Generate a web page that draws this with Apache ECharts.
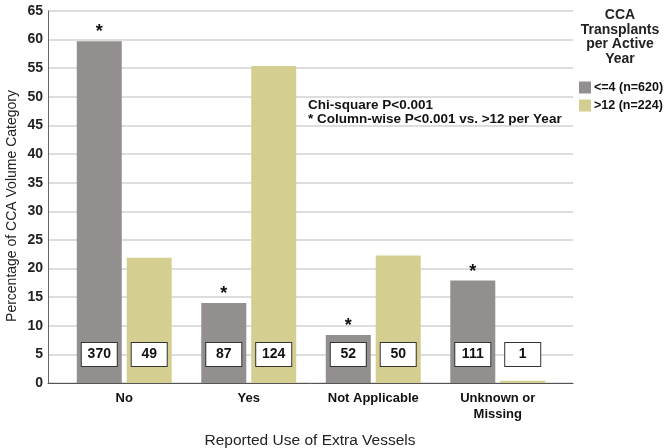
<!DOCTYPE html>
<html>
<head>
<meta charset="utf-8">
<script src="https://cdn.jsdelivr.net/npm/echarts@6/dist/echarts.min.js"></script>
<style>
html,body{margin:0;padding:0;background:#fff;}
#chart{width:666px;height:448px;}
</style>
</head>
<body>
<div id="chart"></div>
<script>
const categories = ['No', 'Yes', 'Not Applicable', 'Unknown or\nMissing'];
const lowName = '<=4 (n=620)';
const highName = '>12 (n=224)';
const lowPct = [59.7, 14.0, 8.4, 17.9];
const highPct = [21.9, 55.4, 22.3, 0.4];
const lowCounts = [370, 87, 52, 111];
const highCounts = [49, 124, 50, 1];
const lowStar = [true, true, true, true];
const highStar = [false, false, false, false];
const yTicks = { min: 0, max: 65, interval: 5 };

const FONT = '"Liberation Sans", Arial, sans-serif';
const GRAY = '#938f8f';
const YELLOW = '#d4cf91';

const countLabel = (counts) => ({
  show: true,
  position: 'insideBottom',
  distance: 17,
  formatter: (p) => String(counts[p.dataIndex]),
  backgroundColor: '#ffffff',
  borderColor: '#333',
  borderWidth: 1,
  padding: [4, 4],
  width: 27,
  align: 'center',
  fontFamily: FONT,
  fontSize: 14,
  fontWeight: 'bold',
  lineHeight: 15,
  color: '#111'
});

const starLabel = (flags) => ({
  show: true,
  position: 'top',
  distance: 0,
  formatter: (p) => flags[p.dataIndex] ? '*' : '',
  fontFamily: FONT,
  fontSize: 18,
  fontWeight: 'bold',
  color: '#111'
});

const chart = echarts.init(document.getElementById('chart'), null, { renderer: 'canvas' });
chart.setOption({
  animation: false,
  backgroundColor: '#fff',
  textStyle: { fontFamily: FONT },
  grid: [
    { left: 48, right: 93, top: 11, bottom: 65 },
    { left: 62, right: 106, top: 11, bottom: 65 }
  ],
  xAxis: [
    { type: 'category', gridIndex: 0, data: categories,
      axisLine: { show: true, lineStyle: { color: '#555', width: 1 } },
      axisTick: { show: false }, axisLabel: { show: false }, splitLine: { show: false } },
    { type: 'category', gridIndex: 1, data: categories,
      axisLine: { show: false }, axisTick: { show: false },
      axisLabel: { fontFamily: FONT, fontSize: 13, fontWeight: 'bold', color: '#111', margin: 7, lineHeight: 16 } },
    { type: 'category', gridIndex: 1, data: categories, show: false }
  ],
  yAxis: [
    { type: 'value', gridIndex: 0, min: yTicks.min, max: yTicks.max, interval: yTicks.interval,
      axisLine: { show: true, lineStyle: { color: '#666', width: 1 } },
      axisTick: { show: false },
      axisLabel: { fontFamily: FONT, fontSize: 14, fontWeight: 'bold', color: '#222', margin: 5 },
      splitLine: { show: true, lineStyle: { color: '#d2d2d2', width: 1.5 } } },
    { type: 'value', gridIndex: 1, min: yTicks.min, max: yTicks.max, interval: yTicks.interval, show: false,
      splitLine: { show: false } }
  ],
  legend: {
    data: [lowName, highName],
    orient: 'vertical',
    left: 574, top: 76,
    itemWidth: 12, itemHeight: 12, itemGap: 5,
    icon: 'rect',
    textStyle: { fontFamily: FONT, fontSize: 12.5, fontWeight: 'bold', color: '#111', padding: [0, 0, 0, -2] },
    selectedMode: false
  },
  series: [
    { name: lowName, type: 'bar', xAxisIndex: 1, yAxisIndex: 1, data: lowPct,
      barWidth: 45, barGap: '11%', itemStyle: { color: GRAY }, label: countLabel(lowCounts) },
    { name: highName, type: 'bar', xAxisIndex: 1, yAxisIndex: 1, data: highPct,
      barWidth: 45, barGap: '11%', itemStyle: { color: YELLOW }, label: countLabel(highCounts) },
    { name: 'lowStar', type: 'bar', xAxisIndex: 2, yAxisIndex: 1, data: lowPct, silent: true,
      barWidth: 45, barGap: '11%', itemStyle: { color: 'rgba(0,0,0,0)' }, label: starLabel(lowStar) },
    { name: 'highStar', type: 'bar', xAxisIndex: 2, yAxisIndex: 1, data: highPct, silent: true,
      barWidth: 45, barGap: '11%', itemStyle: { color: 'rgba(0,0,0,0)' }, label: starLabel(highStar) }
  ],
  graphic: [
    { type: 'text', x: 12, y: 206, rotation: Math.PI / 2,
      style: { text: 'Percentage of CCA Volume Category', font: '14px ' + FONT, fill: '#222',
        textAlign: 'center', textVerticalAlign: 'middle' } },
    { type: 'text', x: 310, y: 441,
      style: { text: 'Reported Use of Extra Vessels', font: '15.5px ' + FONT, fill: '#222',
        textAlign: 'center', textVerticalAlign: 'middle' } },
    { type: 'text', x: 620, y: 8,
      style: { text: 'CCA\nTransplants\nper Active\nYear', font: 'bold 14px ' + FONT, fill: '#222',
        textAlign: 'center', textVerticalAlign: 'top', lineHeight: 14.5 } },
    { type: 'text', x: 308, y: 112,
      style: { text: 'Chi-square P<0.001\n* Column-wise P<0.001 vs. >12 per Year', font: 'bold 13.5px ' + FONT, fill: '#111',
        textAlign: 'left', textVerticalAlign: 'middle', lineHeight: 14 } }
  ]
});
</script>
</body>
</html>
